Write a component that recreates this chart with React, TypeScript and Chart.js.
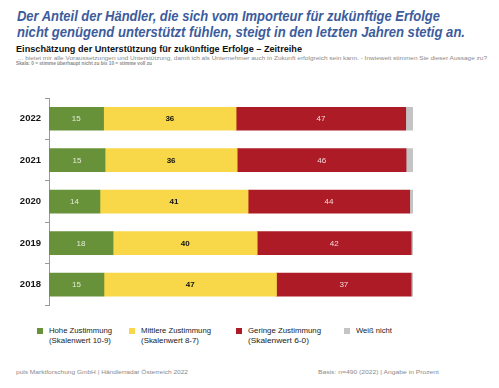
import React, { useEffect, useLayoutEffect, useRef } from "react";
import { Chart, registerables } from "chart.js";

Chart.register(...registerables);

const years = ["2022", "2021", "2020", "2019", "2018"];
const hoheZustimmung = [15, 15.4, 14, 17.6, 15.1];
const mittlereZustimmung = [36.4, 36.3, 40.7, 39.6, 47.4];
const geringeZustimmung = [46.6, 46.4, 44.4, 42.3, 37];
const weissNicht = [2, 1.9, 0.9, 0.5, 0.5];

const seriesNames = ["Hohe Zustimmung", "Mittlere Zustimmung", "Geringe Zustimmung", "Weiß nicht"];
const seriesSub = ["(Skalenwert 10-9)", "(Skalenwert 8-7)", "(Skalenwert 6-0)", ""];
const colors = ["#68923a", "#f8d849", "#ad1c26", "#c4c4c4"];

const FONT = "'Liberation Sans', Arial, sans-serif";

function FitText(props: { x: number; y: number; w: number; size: number; weight?: number | string; italic?: boolean; color: string; text: string }) {
  const ref = useRef<HTMLSpanElement>(null);
  useLayoutEffect(() => {
    const el = ref.current;
    if (!el) return;
    el.style.transform = "none";
    const w = el.getBoundingClientRect().width;
    if (w > 0) el.style.transform = `scaleX(${props.w / w})`;
  }, [props.text, props.w, props.size]);
  return (
    <span
      ref={ref}
      style={{
        position: "absolute",
        left: props.x,
        top: props.y,
        whiteSpace: "nowrap",
        fontFamily: FONT,
        fontSize: props.size,
        fontWeight: props.weight ?? "normal",
        fontStyle: props.italic ? "italic" : "normal",
        color: props.color,
        lineHeight: 1,
        transformOrigin: "0 0",
        display: "inline-block",
      }}
    >
      {props.text}
    </span>
  );
}

const labelPlugin = {
  id: "barLabels",
  afterDatasetsDraw(chart: any) {
    const ctx = chart.ctx;
    ctx.save();
    ctx.textAlign = "center";
    ctx.textBaseline = "middle";
    for (let d = 0; d < 3; d++) {
      const meta = chart.getDatasetMeta(d);
      const data = chart.data.datasets[d].data as number[];
      meta.data.forEach((el: any, i: number) => {
        const { x, y, base } = el.getProps(["x", "y", "base"], true);
        if (d === 1) {
          ctx.fillStyle = "#111";
          ctx.font = `bold 8px ${FONT}`;
        } else {
          ctx.fillStyle = d === 0 ? "#e4ecd8" : "#f2d8d8";
          ctx.font = `8px ${FONT}`;
        }
        ctx.fillText(String(Math.round(data[i])), (x + base) / 2, y + 0.5);
      });
    }
    ctx.restore();
  },
};

export default function App() {
  const canvasRef = useRef<HTMLCanvasElement>(null);

  useEffect(() => {
    document.body.style.margin = "0";
    document.body.style.background = "#fff";
    const canvas = canvasRef.current!;
    const chart = new Chart(canvas, {
      type: "bar",
      data: {
        labels: years,
        datasets: [hoheZustimmung, mittlereZustimmung, geringeZustimmung, weissNicht].map((arr, i) => ({
          label: seriesNames[i],
          data: arr,
          backgroundColor: colors[i],
          borderWidth: 0,
          barThickness: 23,
        })),
      },
      options: {
        indexAxis: "y",
        responsive: false,
        animation: false,
        devicePixelRatio: 1,
        layout: { padding: { top: 10, bottom: 9, right: 86, left: 0 } },
        plugins: { legend: { display: false }, tooltip: { enabled: false } },
        scales: {
          x: { stacked: true, min: 0, max: 100, display: false },
          y: {
            stacked: true,
            afterFit: (scale: any) => {
              scale.width = 49;
            },
            grid: { display: true, drawOnChartArea: false, drawTicks: true, tickLength: 4, color: "#9a9a9a", offset: true },
            border: { display: true, color: "#9a9a9a", width: 1 },
            ticks: {
              padding: 4,
              color: "#161616",
              font: { family: FONT, size: 9.5, weight: "bold" },
            },
          },
        },
      },
      plugins: [labelPlugin],
    } as any);
    return () => chart.destroy();
  }, []);

  const legendX = [37, 129, 236, 344];
  const legendTextW = [63, 70, 73, 36];
  const legendSubW = [62, 58, 61, 0];

  return (
    <div style={{ position: "relative", width: 499, height: 388, background: "#fff", overflow: "hidden" }}>
      <FitText x={17} y={9} w={423} size={14} weight="bold" italic color="#3d5c9c" text="Der Anteil der Händler, die sich vom Importeur für zukünftige Erfolge" />
      <FitText x={17} y={25} w={448} size={14} weight="bold" italic color="#3d5c9c" text="nicht genügend unterstützt fühlen, steigt in den letzten Jahren stetig an." />
      <FitText x={16} y={44.5} w={286} size={8.5} weight="bold" color="#111" text="Einschätzung der Unterstützung für zukünftige Erfolge – Zeitreihe" />
      <FitText x={18} y={55.5} w={469} size={5.5} color="#8a8a8a" text="... bietet mir alle Voraussetzungen und Unterstützung, damit ich als Unternehmer auch in Zukunft erfolgreich sein kann. - Inwieweit stimmen Sie dieser Aussage zu?" />
      <FitText x={16} y={60.5} w={136} size={5.5} weight="bold" color="#8a8a8a" text="Skala: 0 = stimme überhaupt nicht zu bis 10 = stimme voll zu" />

      <canvas ref={canvasRef} width={499} height={227} style={{ position: "absolute", left: 0, top: 88, width: 499, height: 227 }} />

      {seriesNames.map((n, i) => (
        <React.Fragment key={n}>
          <div style={{ position: "absolute", left: legendX[i], top: 328, width: 6, height: 6, background: colors[i] }} />
          <FitText x={legendX[i] + 12} y={327} w={legendTextW[i]} size={7.5} color="#222" text={n} />
          {seriesSub[i] ? <FitText x={legendX[i] + 12} y={337} w={legendSubW[i]} size={7.5} color="#222" text={seriesSub[i]} /> : null}
        </React.Fragment>
      ))}

      <FitText x={16} y={369} w={172} size={6} color="#8a8a8a" text="puls Marktforschung GmbH | Händlerradar Österreich 2022" />
      <FitText x={318} y={369} w={121} size={6} color="#8a8a8a" text="Basis: n=490 (2022) | Angabe in Prozent" />
    </div>
  );
}
